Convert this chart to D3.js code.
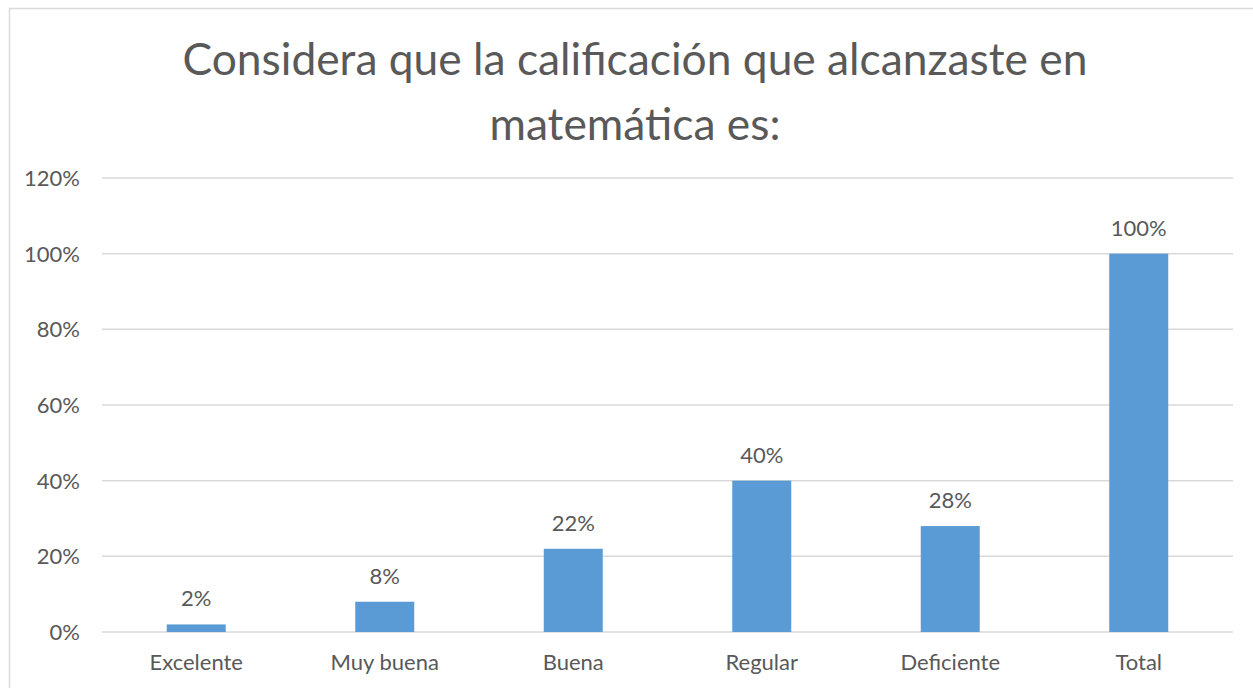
<!DOCTYPE html>
<html>
  <head>
    <meta charset="UTF-8">
    <title>Calificación en matemática</title>
    <script src="https://d3js.org/d3.v7.min.js"></script>
    <style>
      body { margin: 0; background: #fff; }
      text { font-family: Lato, "Open Sans", sans-serif; fill: #595959; }
    </style>
  </head>
  <body>
    <svg width="1253" height="688"></svg>
    <script>
      const categories = ["Excelente", "Muy buena", "Buena", "Regular", "Deficiente", "Total"];
      const values = [0.02, 0.08, 0.22, 0.40, 0.28, 1.00];
      const yTicks = [0, 0.2, 0.4, 0.6, 0.8, 1.0, 1.2];
      const titleLines = ["Considera que la calificación que alcanzaste en", "matemática es:"];

      const svg = d3.select("svg");
      const margin = { left: 102, right: 20, top: 178, bottom: 56 };
      const width = 1253, height = 688;

      // chart border
      svg.append("rect")
        .attr("x", 9.5).attr("y", 8.5)
        .attr("width", 1300).attr("height", 700)
        .attr("fill", "none")
        .attr("stroke", "#d9d9d9")
        .attr("stroke-width", 1.5);

      const x = d3.scaleBand()
        .domain(categories)
        .range([102, 1233])
        .paddingInner(0.687)
        .paddingOuter(0.3435);

      const y = d3.scaleLinear()
        .domain([0, 1.2])
        .range([632, 178]);

      // gridlines
      svg.append("g")
        .selectAll("line")
        .data(yTicks)
        .join("line")
        .attr("x1", 102).attr("x2", 1233)
        .attr("y1", d => y(d)).attr("y2", d => y(d))
        .attr("stroke", "#d9d9d9")
        .attr("stroke-width", 1.5);

      // y tick labels
      svg.append("g")
        .selectAll("text")
        .data(yTicks)
        .join("text")
        .attr("x", 80)
        .attr("y", d => y(d) + 8)
        .attr("text-anchor", "end")
        .attr("font-size", 22)
        .text(d => d3.format(".0%")(d));

      // bars
      svg.append("g")
        .selectAll("rect")
        .data(values)
        .join("rect")
        .attr("x", (d, i) => x(categories[i]))
        .attr("width", x.bandwidth())
        .attr("y", d => y(d))
        .attr("height", d => y(0) - y(d))
        .attr("fill", "#5b9bd5");

      // data labels
      svg.append("g")
        .selectAll("text")
        .data(values)
        .join("text")
        .attr("x", (d, i) => x(categories[i]) + x.bandwidth() / 2)
        .attr("y", d => y(d) - 18)
        .attr("text-anchor", "middle")
        .attr("font-size", 22)
        .text(d => d3.format(".0%")(d));

      // category labels
      svg.append("g")
        .selectAll("text")
        .data(categories)
        .join("text")
        .attr("x", d => x(d) + x.bandwidth() / 2)
        .attr("y", 670)
        .attr("text-anchor", "middle")
        .attr("font-size", 22)
        .text(d => d);

      // title, sized so the first line spans the same width as the original
      const title = svg.append("g");
      const t1 = title.append("text")
        .attr("x", 635).attr("y", 75)
        .attr("text-anchor", "middle")
        .attr("font-size", 50)
        .text(titleLines[0]);
      const fs = 50 * 905 / t1.node().getComputedTextLength();
      t1.attr("font-size", fs);
      title.append("text")
        .attr("x", 635).attr("y", 140)
        .attr("text-anchor", "middle")
        .attr("font-size", fs)
        .text(titleLines[1]);
    </script>
  </body>
</html>
